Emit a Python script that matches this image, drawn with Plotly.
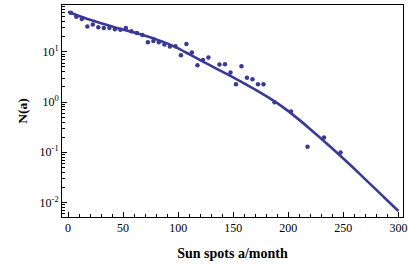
import plotly.graph_objects as go

# Observed points (sun spots per month bin, frequency N(a))
spots = [2.5, 7.5, 12.5, 17.5, 22.5, 27.5, 32.5, 37.5, 42.5, 47.5, 52.5, 57.5, 62.5,
         67.5, 72.5, 77.5, 82.5, 87.5, 92.5, 97.5, 102.5, 107.5, 112.5, 117.5, 122.5,
         127.5, 137.5, 142.5, 147.5, 152.5, 157.5, 162.5, 167.5, 172.5, 177.5, 187.5,
         202.5, 217.5, 232.5, 247.5]
counts = [60, 50, 45, 32, 35, 31, 29.8, 29.8, 28.4, 27.5, 29.8, 25.9, 23.7,
          21.6, 15.6, 16.4, 15.6, 14.0, 12.8, 13.0, 8.6, 14.3, 9.7, 5.4, 6.9,
          7.7, 5.6, 5.7, 3.9, 2.26, 5.2, 3.06, 2.84, 2.26, 2.26, 0.99,
          0.65, 0.128, 0.197, 0.099]

# Fitted curve (log10 N)
fit_x = [0, 10, 20, 30, 40, 50, 60, 70, 80, 90, 100, 110, 120, 130, 140, 150,
         160, 170, 180, 190, 200, 210, 220, 230, 240, 250, 260, 270, 280, 290, 300]
fit_log10 = [1.80, 1.715, 1.64, 1.57, 1.505, 1.445, 1.385, 1.32, 1.25, 1.17, 1.07,
             0.955, 0.835, 0.72, 0.605, 0.49, 0.37, 0.25, 0.12, -0.02, -0.18,
             -0.355, -0.54, -0.73, -0.925, -1.125, -1.33, -1.54, -1.75, -1.96, -2.17]

x_ticks = [0, 50, 100, 150, 200, 250, 300]
y_ticks = [0.01, 0.1, 1, 10]
y_ticktext = ["10<sup>-2</sup>", "10<sup>-1</sup>", "10<sup>0</sup>", "10<sup>1</sup>"]

color = "rgb(58,58,150)"
font_family = "Liberation Serif, Times New Roman, serif"

fig = go.Figure()
fig.add_trace(go.Scatter(
    x=fit_x, y=[10 ** v for v in fit_log10], mode="lines",
    line=dict(color=color, width=2.6, shape="spline"), hoverinfo="skip"))
fig.add_trace(go.Scatter(
    x=spots, y=counts, mode="markers",
    marker=dict(color=color, size=4.5)))

minor_y = [m * 10 ** k for k in range(-3, 2) for m in range(2, 10)]

fig.update_layout(
    width=408, height=267,
    margin=dict(l=62, r=5, t=5, b=50, autoexpand=False),
    paper_bgcolor="white", plot_bgcolor="white",
    showlegend=False,
    font=dict(family=font_family, size=12, color="black"),
    xaxis=dict(
        range=[-5.5, 304.2], tickvals=x_ticks, ticks="inside", ticklen=5,
        tickwidth=1, tickcolor="black", showline=True, linecolor="black",
        linewidth=1, mirror=True, showgrid=False, zeroline=False, automargin=False,
        minor=dict(dtick=10, tick0=0, ticks="inside", ticklen=3, tickcolor="black"),
        title=dict(text="<b>Sun spots a/month</b>", font=dict(size=14, family=font_family),
                   standoff=13),
        tickfont=dict(size=12),
    ),
    yaxis=dict(
        type="log", range=[-2.29, 1.934], tickvals=y_ticks, ticktext=y_ticktext,
        ticks="inside", ticklen=5, tickwidth=1, tickcolor="black",
        showline=True, linecolor="black", linewidth=1, mirror=True,
        showgrid=False, zeroline=False, automargin=False,
        minor=dict(tickvals=minor_y, ticks="inside", ticklen=3, tickcolor="black"),
        title=dict(text="<b>N(a)</b>", font=dict(size=13.5, family=font_family), standoff=8),
        tickfont=dict(size=12),
    ),
)

fig.write_html("out.html", config={"displayModeBar": False},
               post_script="document.body.style.margin='0';")
